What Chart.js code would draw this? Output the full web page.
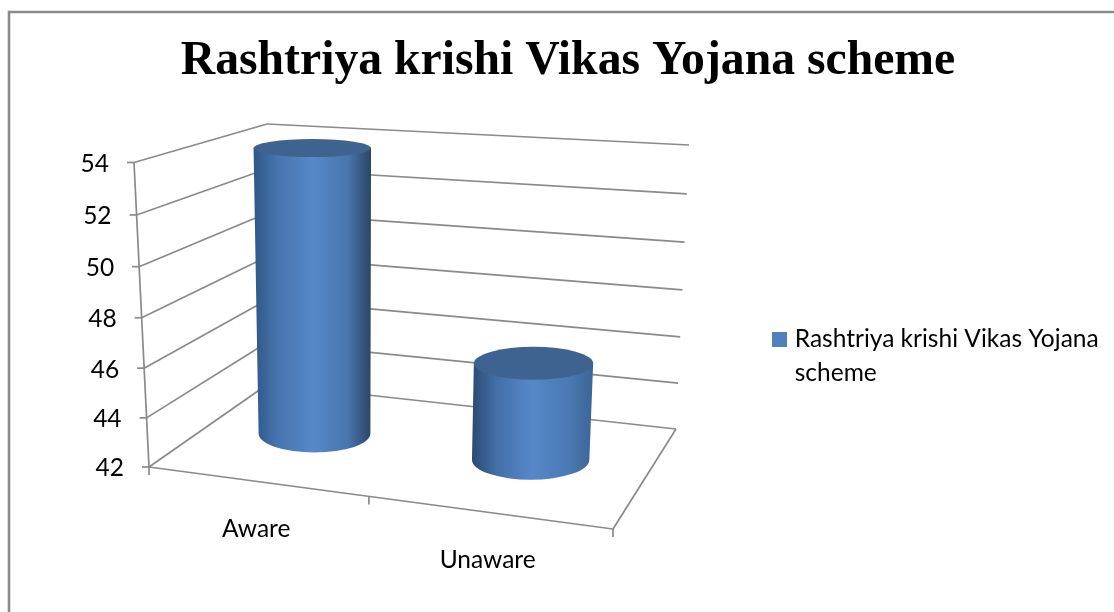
<!DOCTYPE html>
<html>
<head>
<meta charset="utf-8">
<style>html,body{margin:0;padding:0;background:#fff}#wrap{width:1114px;height:612px}</style>
<script src="https://cdn.jsdelivr.net/npm/chart.js@4"></script>
</head>
<body>
<div id="wrap"><canvas id="c" width="1114" height="612"></canvas></div>
<script>
const chartTitle = 'Rashtriya krishi Vikas Yojana scheme';
const seriesName = 'Rashtriya krishi Vikas Yojana scheme';
const seriesLines = ['Rashtriya krishi Vikas Yojana', 'scheme'];
const categories = ['Aware', 'Unaware'];
const values = [54, 46];
const yTicks = [42, 44, 46, 48, 50, 52, 54];
const BLUE = '#4f81bd', GRID = '#8a8a8a', TEXT_FONT = 'Lato';

// 3D box corners: [bottom x, bottom y, top x, top y]
const box = {
  fl: [149, 467, 134, 162.5], fr: [613, 529, 630, 202],
  bl: [268, 384, 267, 124],   br: [676, 429, 689, 145]
};
const DEPTH = 0.55;
const warp = (u, r) => u / (u + (1 - u) * r);
const lerp = (a, b, k) => a + (b - a) * k;
function project(u, d, t) {
  const corner = c => [lerp(c[0], c[2], t), lerp(c[1], c[3], t)];
  const fl = corner(box.fl), fr = corner(box.fr), bl = corner(box.bl), br = corner(box.br);
  const f = [lerp(fl[0], fr[0], u), lerp(fl[1], fr[1], u)];
  const b = [lerp(bl[0], br[0], u), lerp(bl[1], br[1], u)];
  return [lerp(f[0], b[0], d), lerp(f[1], b[1], d)];
}
const rawU = (chart, x) => (x - chart.chartArea.left) / (chart.chartArea.right - chart.chartArea.left);
const uOf = (chart, x) => warp(rawU(chart, x), 1.11);
const tOf = (chart, py) => warp((chart.chartArea.bottom - py) / (chart.chartArea.bottom - chart.chartArea.top), 1.04);

class CylinderController extends Chart.BarController {
  draw() {
    const chart = this.chart, ctx = chart.ctx, area = chart.chartArea;
    const W = area.right - area.left;
    this.getMeta().data.forEach((bar, i) => {
      const raw = rawU(chart, bar.x), half = bar.width / W / 2;
      const u = uOf(chart, bar.x);
      const du = (warp(raw + half, 1.05) - warp(raw - half, 1.05)) / 2;
      const t = tOf(chart, bar.y);
      const ell = tt => {
        const c = project(u, DEPTH, tt);
        const l = project(u - du, DEPTH, tt), r = project(u + du, DEPTH, tt);
        return { x: c[0], y: c[1], rx: (r[0] - l[0]) / 2, ry: 9 + (c[1] - 148) * 0.035 };
      };
      const bot = ell(0), top = ell(t);
      const g = ctx.createLinearGradient(Math.min(top.x - top.rx, bot.x - bot.rx), 0, Math.max(top.x + top.rx, bot.x + bot.rx), 0);
      const left = i === 0 ? '#2f5686' : '#2c4a72', right = i === 0 ? '#2b4568' : '#3d6496';
      g.addColorStop(0, left);
      g.addColorStop(0.2, i === 0 ? '#4674ad' : '#436fa8');
      g.addColorStop(0.5, '#5688c9');
      g.addColorStop(0.8, i === 0 ? '#4876ae' : '#4a79b3');
      g.addColorStop(1, right);
      ctx.save();
      ctx.beginPath();
      ctx.moveTo(top.x - top.rx, top.y);
      ctx.lineTo(bot.x - bot.rx, bot.y);
      ctx.ellipse(bot.x, bot.y, bot.rx, bot.ry, 0, Math.PI, 0, true);
      ctx.lineTo(top.x + top.rx, top.y);
      ctx.closePath();
      ctx.fillStyle = g; ctx.fill();
      ctx.beginPath();
      ctx.ellipse(top.x, top.y, top.rx, top.ry, 0, 0, Math.PI * 2);
      ctx.fillStyle = '#3f6391'; ctx.fill();
      ctx.restore();
    });
  }
}
CylinderController.id = 'cylinder';
CylinderController.defaults = Chart.BarController.defaults;
CylinderController.overrides = Chart.BarController.overrides;
Chart.register(CylinderController);

const walls = {
  id: 'walls',
  afterLayout(chart) {
    chart.legend.left = 760.5;
    chart.legend.right = 1114;
    chart.legend.top = 311.25;
    chart.legend.bottom = 612;
  },
  beforeDatasetsDraw(chart) {
    const ctx = chart.ctx, ys = chart.scales.y, xs = chart.scales.x;
    const seg = (a, b) => { ctx.beginPath(); ctx.moveTo(a[0], a[1]); ctx.lineTo(b[0], b[1]); ctx.stroke(); };
    ctx.save();
    ctx.strokeStyle = GRID;
    ctx.lineWidth = 2.6;
    seg([1114, 12], [9, 12]); seg([9, 10.7], [9, 612]);
    ctx.lineWidth = 1.7;
    ctx.font = '24.5px ' + TEXT_FONT; ctx.fillStyle = '#000';
    ctx.textBaseline = 'middle';
    seg(project(0, 0, 0), project(0, 0, 1));
    ys.ticks.forEach(tk => {
      const t = tOf(chart, ys.getPixelForValue(tk.value));
      const f = project(0, 0, t), b = project(0, 1, t), r = project(1, 1, t);
      seg(f, b); seg(b, r); seg([f[0] - 7, f[1]], f);
      ctx.textAlign = 'right';
      ctx.fillText(String(tk.value), f[0] - 25, f[1] + 1.5);
    });
    seg(project(0, 0, 0), project(1, 0, 0));
    seg(project(1, 0, 0), project(1, 1, 0));
    [0, 0.5, 1].forEach(k => {
      const p = project(warp(k, 1.11), 0, 0);
      seg(p, [p[0], p[1] + 8]);
    });
    ctx.textAlign = 'center';
    xs.ticks.forEach((tk, i) => {
      const p = project(uOf(chart, xs.getPixelForTick(i)), 0, 0);
      ctx.fillText(categories[i], p[0], p[1] + 48);
    });
    ctx.restore();
  }
};

new Chart(document.getElementById('c'), {
  type: 'cylinder',
  data: {
    labels: categories,
    datasets: [{ label: seriesName, data: values, backgroundColor: BLUE, barPercentage: 0.529, categoryPercentage: 1, clip: false }]
  },
  options: {
    responsive: false, animation: false,
    layout: { padding: { left: 22, right: 0, top: 0, bottom: 0 } },
    scales: {
      x: { type: 'category', ticks: { display: false }, grid: { display: false }, border: { display: false },
           afterFit: s => { s.height = 145; } },
      y: { type: 'linear', min: 42, max: 54, ticks: { display: false }, grid: { display: false }, border: { display: false },
           afterBuildTicks: s => { s.ticks = yTicks.map(v => ({ value: v })); },
           afterFit: s => { s.width = 127; } }
    },
    plugins: {
      tooltip: { enabled: false },
      title: { display: true, text: chartTitle, color: '#000',
               font: { family: 'Liberation Serif', size: 47.7, weight: 'bold', lineHeight: 1.2 },
               padding: { top: 33, bottom: 72.2 } },
      legend: {
        display: true, position: 'right', align: 'start',
        labels: {
          color: '#000', boxWidth: 6, boxHeight: 6, padding: 16,
          font: { family: TEXT_FONT, size: 24.5, lineHeight: 1.39 },
          generateLabels: chart => [{ text: seriesLines, fillStyle: BLUE, strokeStyle: BLUE, lineWidth: 9, datasetIndex: 0 }]
        }
      }
    }
  },
  plugins: [walls]
});
</script>
</body>
</html>
